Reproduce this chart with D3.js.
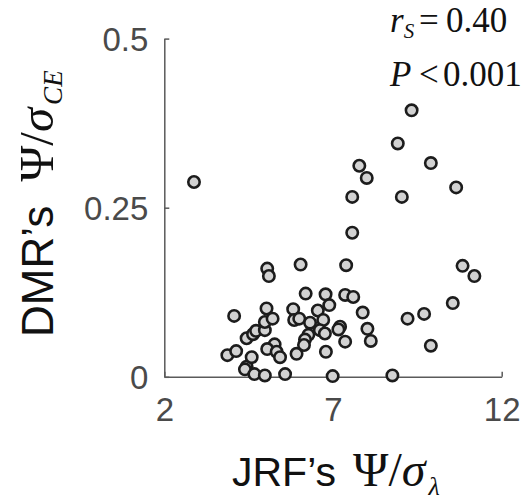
<!DOCTYPE html>
<html>
<head>
<meta charset="utf-8">
<script src="https://cdn.jsdelivr.net/npm/d3@7"></script>
<style>
  html, body { margin: 0; padding: 0; background: #fff; }
  svg { display: block; }
</style>
</head>
<body>
<div id="chart"></div>
<script>
// JRF's Ψ/σλ (x) against DMR's Ψ/σCE (y), one point per sample
const jrf = [
  2.88, 4.07, 3.87, 4.13, 4.44, 4.39, 4.67, 4.98, 5.58, 4.59,
  4.44, 4.63, 4.72, 4.98, 4.98, 5.03, 5.05, 5.10, 5.21, 5.27,
  5.05, 5.33, 5.43, 5.92, 5.82, 5.85, 6.00, 6.04, 6.19, 6.32,
  6.27, 6.17, 6.14, 6.55, 6.71, 6.61, 6.79, 6.78, 6.89, 7.21,
  7.16, 7.36, 7.36, 7.60, 7.39, 7.57, 7.57, 7.78, 8.00, 7.88,
  8.02, 8.12, 6.99, 8.76, 8.92, 9.33, 9.90, 9.04, 9.21, 9.70,
  9.90, 10.55, 10.65, 10.84, 11.19, 6.76
];
const dmr = [
  0.288, 0.090, 0.032, 0.038, 0.015, 0.011, 0.004, 0.002, 0.004, 0.029,
  0.057, 0.063, 0.068, 0.069, 0.081, 0.101, 0.160, 0.149, 0.086, 0.048,
  0.041, 0.037, 0.029, 0.034, 0.100, 0.084, 0.086, 0.166, 0.123, 0.080,
  0.062, 0.055, 0.047, 0.098, 0.084, 0.069, 0.037, 0.122, 0.106, 0.074,
  0.070, 0.052, 0.121, 0.118, 0.165, 0.213, 0.266, 0.312, 0.294, 0.095,
  0.071, 0.053, 0.001, 0.002, 0.345, 0.394, 0.316, 0.266, 0.086, 0.093,
  0.046, 0.109, 0.280, 0.164, 0.149, 0.064
];
const xTicks = [2, 7, 12];
const yTicks = [0, 0.25, 0.5];
const yTickLabels = ["0", "0.25", "0.5"];

const W = 524, H = 504;
const margin = { left: 164.3, right: 22.3, top: 38.6, bottom: 127.2 };

const svg = d3.select("#chart").append("svg")
  .attr("width", W).attr("height", H);

const x = d3.scaleLinear().domain([2, 12]).range([margin.left, W - margin.right]);
const y = d3.scaleLinear().domain([0, 0.5]).range([H - margin.bottom, margin.top]);

const axisColor = "#5a5a5a";
const tickColor = "#4a4a4a";
const sans = "'Liberation Sans', Arial, Helvetica, sans-serif";
const serif = "'Liberation Serif', 'Times New Roman', serif";

// Axes with inward ticks
const xAxis = svg.append("g")
  .attr("transform", `translate(0,${y(0)})`)
  .call(d3.axisBottom(x).tickValues(xTicks).tickSizeInner(-5).tickSizeOuter(0).tickPadding(21)
    .tickFormat(d3.format("d")));
const yAxis = svg.append("g")
  .attr("transform", `translate(${x(2)},0)`)
  .call(d3.axisLeft(y).tickValues(yTicks).tickSizeInner(-5).tickSizeOuter(0).tickPadding(16)
    .tickFormat((d, i) => yTickLabels[i]));

[xAxis, yAxis].forEach(g => {
  g.select(".domain").attr("stroke", axisColor).attr("stroke-width", 1.5);
  g.selectAll(".tick line").attr("stroke", axisColor).attr("stroke-width", 1.5);
  g.selectAll(".tick text")
    .attr("fill", tickColor)
    .style("font-family", sans)
    .style("font-size", "33px");
});
xAxis.selectAll(".tick text").attr("dy", "0.71em");
yAxis.selectAll(".tick text").attr("dy", "0.36em");

// Scatter points
svg.append("g").selectAll("circle")
  .data(jrf.map((v, i) => [v, dmr[i]]))
  .join("circle")
  .attr("cx", d => x(d[0]))
  .attr("cy", d => y(d[1]))
  .attr("r", 5.7)
  .attr("fill", "#d2d2d2")
  .attr("stroke", "#1c1c1c")
  .attr("stroke-width", 2.6);

// x-axis title: JRF's Ψ/σλ
const xt = svg.append("text")
  .attr("x", 232).attr("y", 486)
  .attr("text-anchor", "start")
  .attr("fill", "#111");
xt.append("tspan").style("font-family", sans).style("font-size", "41px").text("JRF\u2019s");
xt.append("tspan").attr("dx", 17).style("font-family", serif).style("font-size", "48px").text("\u03A8/");
xt.append("tspan").style("font-family", serif).style("font-size", "48px").style("font-style", "italic").text("\u03C3");
xt.append("tspan").style("font-family", serif).style("font-size", "26px").style("font-style", "italic")
  .attr("dx", 3).attr("dy", 9).text("\u03BB");

// y-axis title: DMR's Ψ/σCE
const yt = svg.append("text")
  .attr("transform", "translate(53,337) rotate(-90)")
  .attr("text-anchor", "start")
  .attr("fill", "#111");
yt.append("tspan").style("font-family", sans).style("font-size", "44px").text("DMR\u2019s");
yt.append("tspan").attr("dx", 24).style("font-family", serif).style("font-size", "49px").text("\u03A8/");
yt.append("tspan").style("font-family", serif).style("font-size", "49px").style("font-style", "italic").text("\u03C3");
yt.append("tspan").style("font-family", serif).style("font-size", "27px").style("font-style", "italic")
  .attr("dx", 3).attr("dy", 9).text("CE");

// Correlation annotation
const a1 = svg.append("text").attr("y", 32).attr("fill", "#111")
  .style("font-family", serif).style("font-size", "35px");
a1.append("tspan").attr("x", 390).style("font-style", "italic").text("r");
a1.append("tspan").style("font-style", "italic").style("font-size", "21px").attr("dy", 6).text("S");
a1.append("tspan").attr("x", 419).attr("dy", -6).text("=");
a1.append("tspan").attr("x", 446).text("0.40");

const a2 = svg.append("text").attr("y", 86).attr("fill", "#111")
  .style("font-family", serif).style("font-size", "35px");
a2.append("tspan").attr("x", 390).style("font-style", "italic").text("P");
a2.append("tspan").attr("x", 419).text("<");
a2.append("tspan").attr("x", 443).text("0.001");
</script>
</body>
</html>
